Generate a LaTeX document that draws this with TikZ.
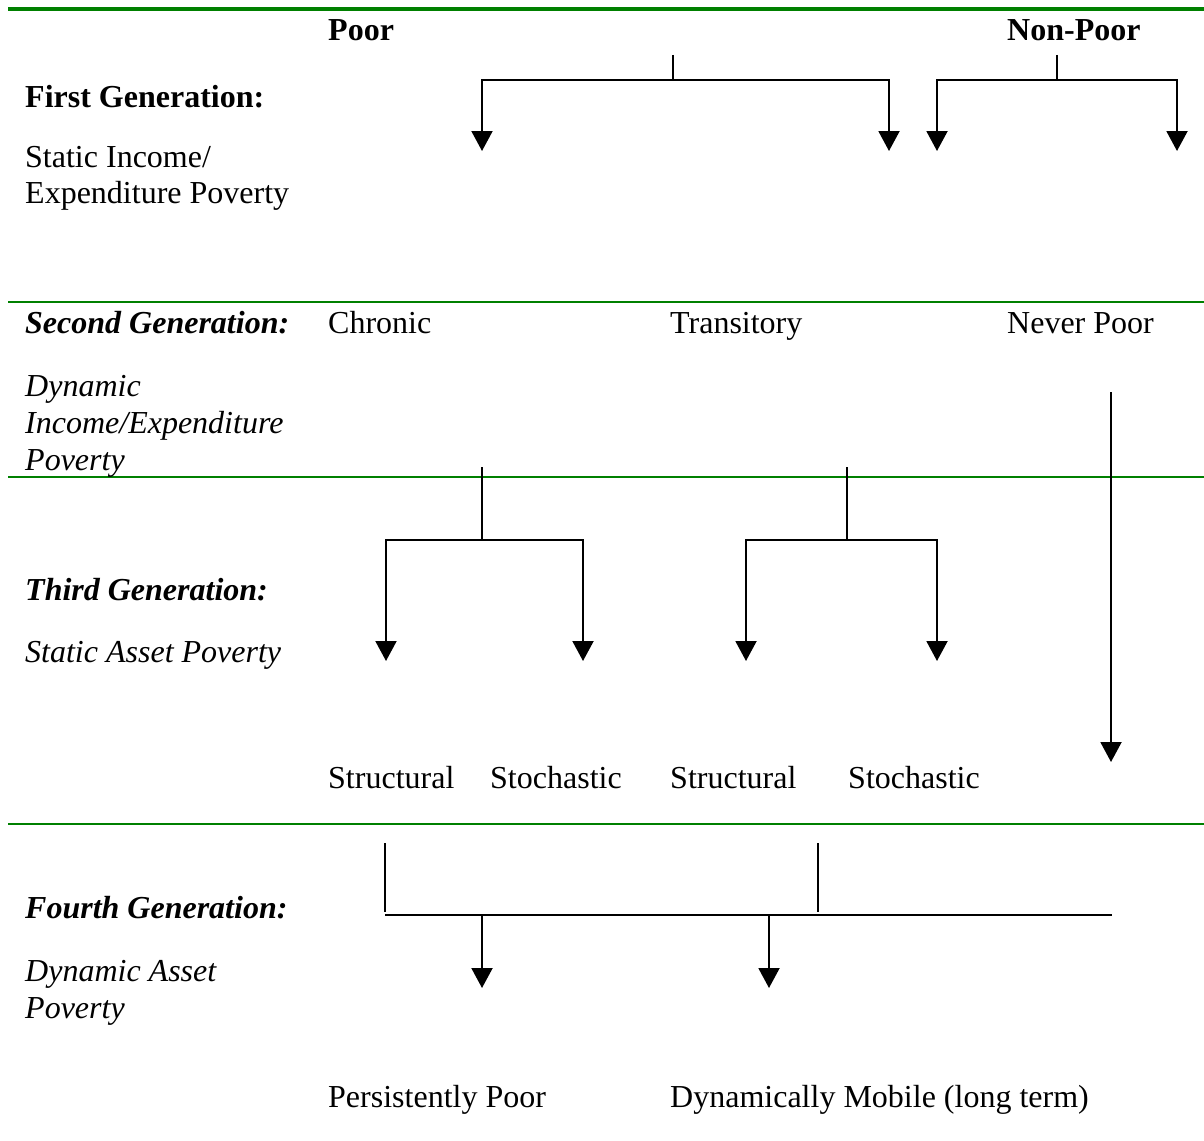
\documentclass[tikz,border=0pt]{standalone}
\usepackage{fontspec}
\setmainfont{Liberation Serif}
\usetikzlibrary{arrows.meta}
\definecolor{rulegreen}{RGB}{0,128,0}
\begin{document}
\begin{tikzpicture}[x=1pt,y=-1pt,
  lbl/.style={anchor=base west, inner sep=0pt, font=\fontsize{32}{36.8}\selectfont},
  bl/.style={lbl, font=\fontsize{32}{36.8}\selectfont\bfseries},
  bi/.style={lbl, font=\fontsize{32}{36.8}\selectfont\bfseries\itshape},
  it/.style={lbl, font=\fontsize{32}{36.8}\selectfont\itshape},
  sep/.style={draw=rulegreen, line width=2pt},
  topsep/.style={draw=rulegreen, line width=4pt},
  conn/.style={draw=black, line width=2pt},
  arr/.style={conn, -{Triangle[width=21pt,length=20pt]}}
]
\useasboundingbox (0,0) rectangle (1204,1140);

% green separators
\coordinate (s0a) at (8,9);   \coordinate (s0b) at (1204,9);
\coordinate (s1a) at (8,302); \coordinate (s1b) at (1204,302);
\coordinate (s2a) at (8,477); \coordinate (s2b) at (1204,477);
\coordinate (s3a) at (8,824); \coordinate (s3b) at (1204,824);
\draw[topsep] (s0a) -- (s0b);
\draw[sep] (s1a) -- (s1b);
\draw[sep] (s2a) -- (s2b);
\draw[sep] (s3a) -- (s3b);

% headers
\node[bl] (poor) at (328,41) {Poor};
\node[bl] (nonpoor) at (1007,41) {Non-Poor};

% first generation
\node[bl] (g1) at (25,107) {First Generation:};
\node[lbl] (g1a) at (25,167) {Static Income/};
\node[lbl] (g1b) at (25,203) {Expenditure Poverty};

% second generation
\node[bi] (g2) at (25,333) {Second Generation:};
\node[lbl] (chronic) at (328,333) {Chronic};
\node[lbl] (trans) at (670,333) {Transitory};
\node[lbl] (never) at (1007,333) {Never Poor};
\node[it] (g2a) at (25,396) {Dynamic};
\node[it] (g2b) at (25,433) {Income/Expenditure};
\node[it] (g2c) at (25,470) {Poverty};

% third generation
\node[bi] (g3) at (25,600) {Third Generation:};
\node[it] (g3a) at (25,662) {Static Asset Poverty};
\node[lbl] (struc1) at (328,788) {Structural};
\node[lbl] (stoch1) at (490,788) {Stochastic};
\node[lbl] (struc2) at (670,788) {Structural};
\node[lbl] (stoch2) at (848,788) {Stochastic};

% fourth generation
\node[bi] (g4) at (25,918) {Fourth Generation:};
\node[it] (g4a) at (25,981) {Dynamic Asset};
\node[it] (g4b) at (25,1018) {Poverty};
\node[lbl] (persist) at (328,1107) {Persistently Poor};
\node[lbl] (mobile) at (670,1107) {Dynamically Mobile (long term)};

% first generation split: poor
\coordinate (p1top) at (673,55);
\coordinate (p1j) at (673,80);
\coordinate (p1l) at (482,151);
\coordinate (p1r) at (889,151);
\draw[conn] (p1top) -- (p1j);
\draw[arr] (p1j) -| (p1l);
\draw[arr] (p1j) -| (p1r);

% first generation split: non-poor
\coordinate (n1top) at (1057,55);
\coordinate (n1j) at (1057,80);
\coordinate (n1l) at (937,151);
\coordinate (n1r) at (1177,151);
\draw[conn] (n1top) -- (n1j);
\draw[arr] (n1j) -| (n1l);
\draw[arr] (n1j) -| (n1r);

% chronic split
\coordinate (c2top) at (482,467);
\coordinate (c2j) at (482,540);
\coordinate (c2l) at (386,661);
\coordinate (c2r) at (583,661);
\draw[conn] (c2top) -- (c2j);
\draw[arr] (c2j) -| (c2l);
\draw[arr] (c2j) -| (c2r);

% transitory split
\coordinate (t2top) at (847,467);
\coordinate (t2j) at (847,540);
\coordinate (t2l) at (746,661);
\coordinate (t2r) at (937,661);
\draw[conn] (t2top) -- (t2j);
\draw[arr] (t2j) -| (t2l);
\draw[arr] (t2j) -| (t2r);

% never poor long arrow
\coordinate (nvtop) at (1111,392);
\coordinate (nvend) at (1111,762);
\draw[arr] (nvtop) -- (nvend);

% fourth generation merge
\coordinate (m1top) at (385,843);
\coordinate (m1bot) at (385,912);
\coordinate (m2top) at (818,843);
\coordinate (m2bot) at (818,912);
\coordinate (hl) at (385,915);
\coordinate (hr) at (1112,915);
\coordinate (a1s) at (482,915);
\coordinate (a1e) at (482,988);
\coordinate (a2s) at (769,915);
\coordinate (a2e) at (769,988);
\draw[conn] (m1top) -- (m1bot);
\draw[conn] (m2top) -- (m2bot);
\draw[conn] (hl) -- (hr);
\draw[arr] (a1s) -- (a1e);
\draw[arr] (a2s) -- (a2e);
\end{tikzpicture}
\end{document}
